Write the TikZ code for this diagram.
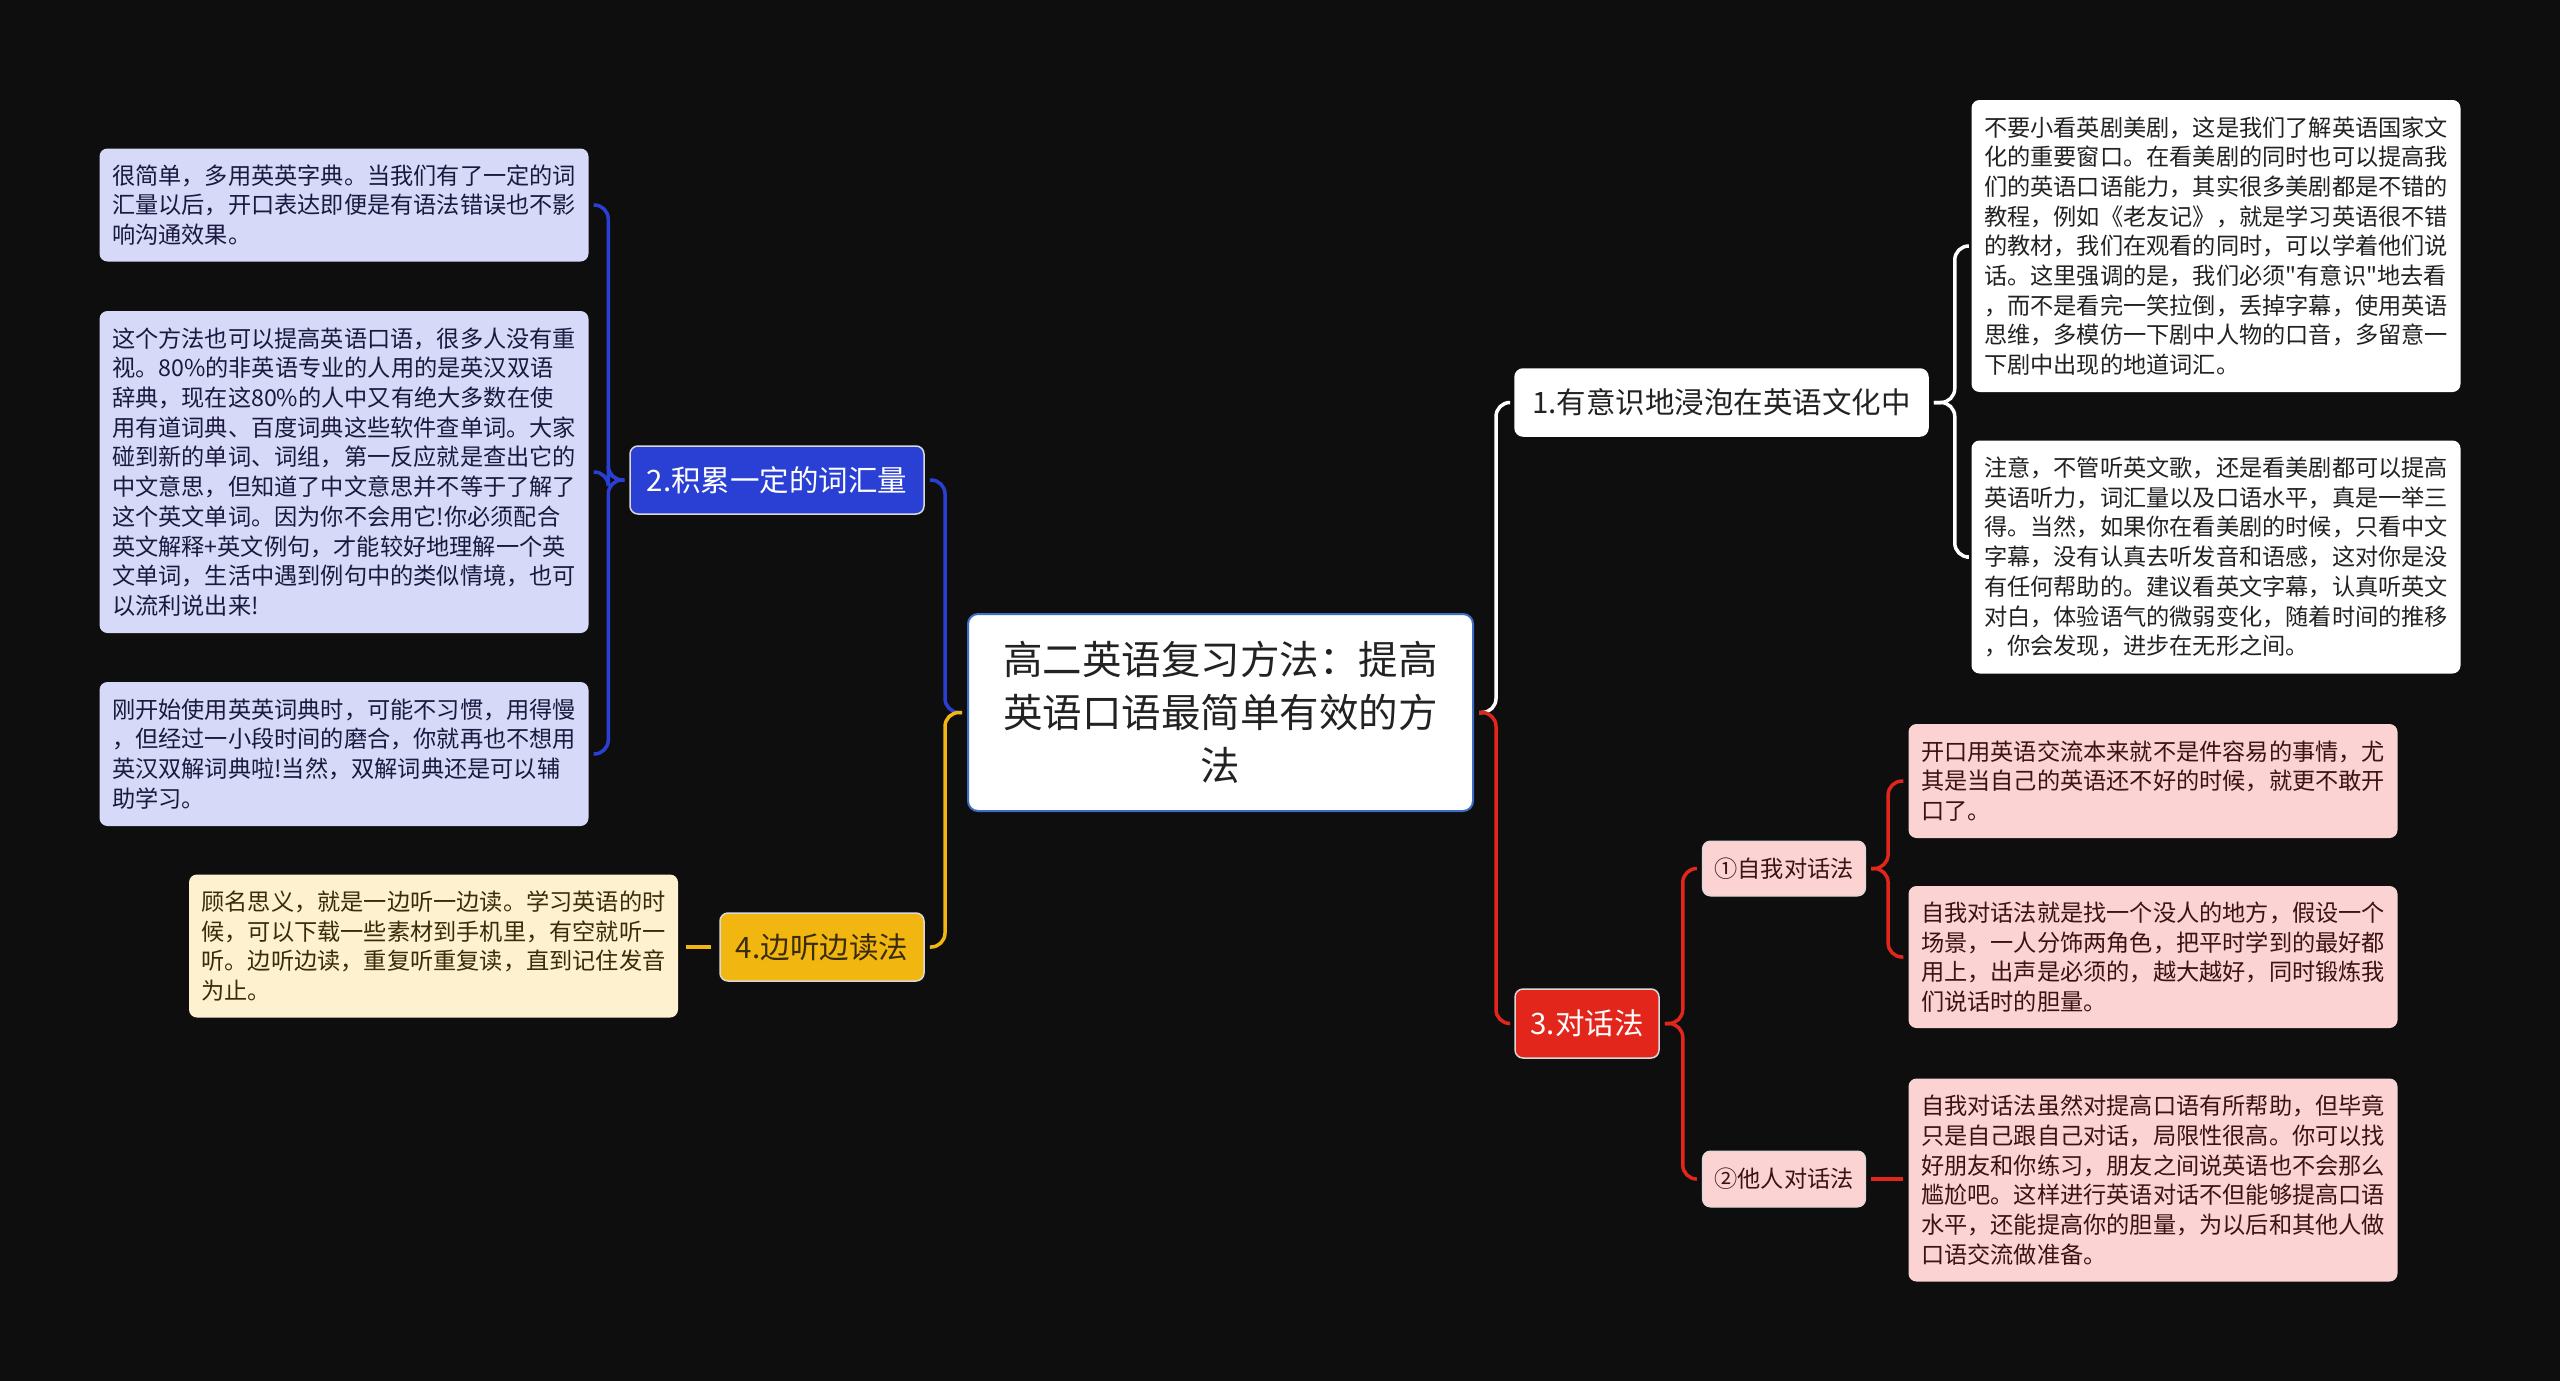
\documentclass[tikz,border=0pt]{standalone}
\usepackage{fontspec}
\setmainfont{Noto Sans CJK SC}[Ligatures=TeXOff]
\definecolor{bgDark}{HTML}{0E0E0E}
\definecolor{rootLine}{HTML}{3D6DC4}
\definecolor{greyText}{HTML}{222222}
\definecolor{blueMain}{HTML}{2A40D4}
\definecolor{blueLeaf}{HTML}{D6D9F7}
\definecolor{blueText}{HTML}{1A1A40}
\definecolor{yellowMain}{HTML}{F1B60F}
\definecolor{yellowLeaf}{HTML}{FDF1CF}
\definecolor{yellowText}{HTML}{3A2C0A}
\definecolor{redMain}{HTML}{E2261C}
\definecolor{redLeaf}{HTML}{FAD3D2}
\definecolor{redText}{HTML}{3C1212}
\tikzstyle{boxBase}=[rounded corners = 8pt, inner xsep = 12pt, inner ysep = 6pt]
\tikzstyle{leafText}=[font = \fontsize{23.2}{29.7}\selectfont, align = left, minimum width = 489pt]
\tikzstyle{mainText}=[font = \fontsize{29.5}{36}\selectfont, draw = white!85!black, line width = 1.5pt]
\tikzstyle{linkStyle}=[line width = 3.5pt, rounded corners = 14pt, shorten <= 5pt, shorten >= 5pt]

\begin{document}
\begin{tikzpicture}[x = 1pt, y = -1pt]
\tikzstyle{rootStyle}=[boxBase, rounded corners = 10pt, fill = white, draw = rootLine, line width = 2pt, text = greyText, font = \fontsize{39.5}{53}\selectfont, align = center, minimum width = 505pt, minimum height = 197pt]
\tikzstyle{leafWhite}=[boxBase, leafText, fill = white, text = greyText]
\tikzstyle{leafBlue}=[boxBase, leafText, fill = blueLeaf, text = blueText]
\tikzstyle{leafYellow}=[boxBase, leafText, fill = yellowLeaf, text = yellowText]
\tikzstyle{leafRed}=[boxBase, leafText, fill = redLeaf, text = redText]
\fill[bgDark] (0,0) rectangle (2560,1381);
\useasboundingbox (0,0) rectangle (2560,1381);
% centre
\node[rootStyle] (v0) at (1220.5,712.5) {高二英语复习方法：提高\\英语口语最简单有效的方\\法};
% main topics
\node[boxBase, mainText, fill = white, draw = white, text = greyText, minimum width = 413pt, minimum height = 67pt] (v1) at (1721.5,402.5) {1.有意识地浸泡在英语文化中};
\node[boxBase, mainText, fill = blueMain, text = white, minimum width = 294pt, minimum height = 68pt] (v2) at (777,480) {2.积累一定的词汇量};
\node[boxBase, mainText, fill = redMain, text = white, minimum width = 144pt, minimum height = 69pt] (v3) at (1587,1023.5) {3.对话法};
\node[boxBase, mainText, fill = yellowMain, text = yellowText, minimum width = 204pt, minimum height = 68pt] (v4) at (822,947) {4.边听边读法};
% sub topics
\node[boxBase, fill = redLeaf, text = redText, draw = white!85!black, line width = 1pt, font = \fontsize{23.2}{28}\selectfont, minimum width = 162pt, minimum height = 55pt] (v5) at (1784,868.5) {①自我对话法};
\node[boxBase, fill = redLeaf, text = redText, draw = white!85!black, line width = 1pt, font = \fontsize{23.2}{28}\selectfont, minimum width = 162pt, minimum height = 56pt] (v6) at (1784,1179) {②他人对话法};
% leaves
\node[leafWhite, minimum height = 292pt] (v7) at (2216,246) {不要小看英剧美剧，这是我们了解英语国家文\\化的重要窗口。在看美剧的同时也可以提高我\\们的英语口语能力，其实很多美剧都是不错的\\教程，例如《老友记》，就是学习英语很不错\\的教材，我们在观看的同时，可以学着他们说\\话。这里强调的是，我们必须"有意识"地去看\\，而不是看完一笑拉倒，丢掉字幕，使用英语\\思维，多模仿一下剧中人物的口音，多留意一\\下剧中出现的地道词汇。};
\node[leafWhite, minimum height = 233pt] (v8) at (2216,557) {注意，不管听英文歌，还是看美剧都可以提高\\英语听力，词汇量以及口语水平，真是一举三\\得。当然，如果你在看美剧的时候，只看中文\\字幕，没有认真去听发音和语感，这对你是没\\有任何帮助的。建议看英文字幕，认真听英文\\对白，体验语气的微弱变化，随着时间的推移\\，你会发现，进步在无形之间。};
\node[leafBlue, minimum height = 113pt] (v9) at (344,205) {很简单，多用英英字典。当我们有了一定的词\\汇量以后，开口表达即便是有语法错误也不影\\响沟通效果。};
\node[leafBlue, minimum height = 322pt] (v10) at (344,472) {这个方法也可以提高英语口语，很多人没有重\\视。80\%的非英语专业的人用的是英汉双语\\辞典，现在这80\%的人中又有绝大多数在使\\用有道词典、百度词典这些软件查单词。大家\\碰到新的单词、词组，第一反应就是查出它的\\中文意思，但知道了中文意思并不等于了解了\\这个英文单词。因为你不会用它!你必须配合\\英文解释+英文例句，才能较好地理解一个英\\文单词，生活中遇到例句中的类似情境，也可\\以流利说出来!};
\node[leafBlue, minimum height = 144pt] (v11) at (344,754) {刚开始使用英英词典时，可能不习惯，用得慢\\，但经过一小段时间的磨合，你就再也不想用\\英汉双解词典啦!当然，双解词典还是可以辅\\助学习。};
\node[leafYellow, minimum height = 143pt] (v12) at (433.5,946) {顾名思义，就是一边听一边读。学习英语的时\\候，可以下载一些素材到手机里，有空就听一\\听。边听边读，重复听重复读，直到记住发音\\为止。};
\node[leafRed, minimum height = 114pt] (v13) at (2153,781) {开口用英语交流本来就不是件容易的事情，尤\\其是当自己的英语还不好的时候，就更不敢开\\口了。};
\node[leafRed, minimum height = 142pt] (v14) at (2153,957) {自我对话法就是找一个没人的地方，假设一个\\场景，一人分饰两角色，把平时学到的最好都\\用上，出声是必须的，越大越好，同时锻炼我\\们说话时的胆量。};
\node[leafRed, minimum height = 203pt] (v15) at (2153,1180) {自我对话法虽然对提高口语有所帮助，但毕竟\\只是自己跟自己对话，局限性很高。你可以找\\好朋友和你练习，朋友之间说英语也不会那么\\尴尬吧。这样进行英语对话不但能够提高口语\\水平，还能提高你的胆量，为以后和其他人做\\口语交流做准备。};
% links
\draw[linkStyle, white] (v0.east) -- ++(22,0) |- (v1.west);
\draw[linkStyle, redMain] (v0.east) -- ++(22,0) |- (v3.west);
\draw[linkStyle, blueMain] (v0.west) -- ++(-22,0) |- (v2.east);
\draw[linkStyle, yellowMain] (v0.west) -- ++(-22,0) |- (v4.east);
\draw[linkStyle, white] (v1.east) -- ++(26,0) |- (v7.west);
\draw[linkStyle, white] (v1.east) -- ++(26,0) |- (v8.west);
\draw[linkStyle, blueMain] (v2.west) -- ++(-21,0) |- (v9.east);
\draw[linkStyle, blueMain] (v2.west) -- ++(-21,0) |- (v10.east);
\draw[linkStyle, blueMain] (v2.west) -- ++(-21,0) |- (v11.east);
\draw[linkStyle, yellowMain, shorten <= 8pt, shorten >= 8pt] (v4.west) -- (v4.west -| v12.east);
\draw[linkStyle, redMain] (v3.east) -- ++(23,0) |- (v5.west);
\draw[linkStyle, redMain] (v3.east) -- ++(23,0) |- (v6.west);
\draw[linkStyle, redMain] (v5.east) -- ++(22,0) |- (v13.west);
\draw[linkStyle, redMain] (v5.east) -- ++(22,0) |- (v14.west);
\draw[linkStyle, redMain] (v6.east) -- (v6.east -| v15.west);
\end{tikzpicture}
\end{document}
